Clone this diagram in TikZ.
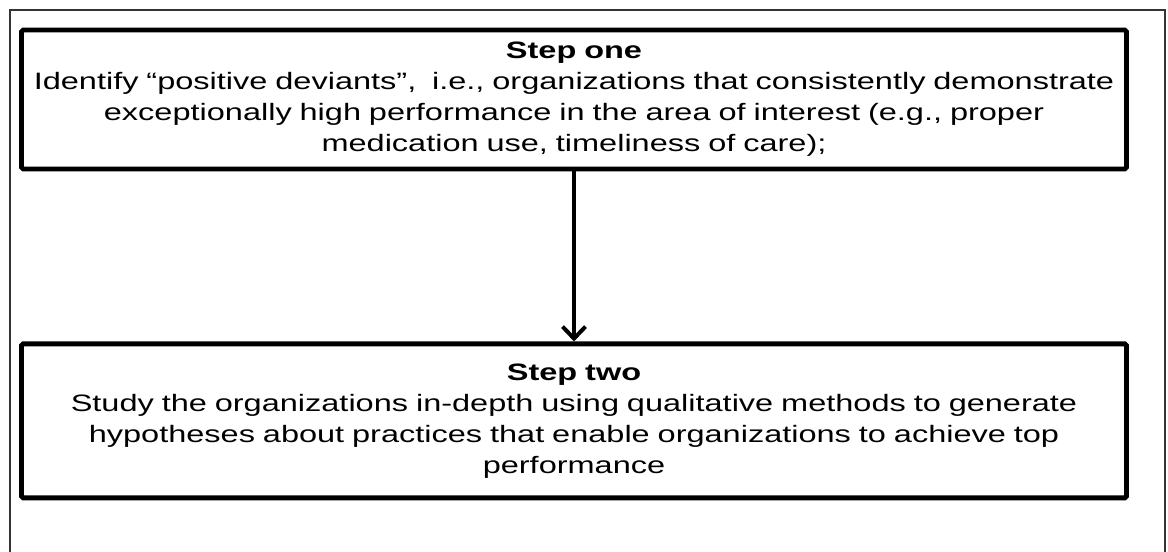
\documentclass[tikz,border=0pt]{standalone}
\usepackage{fontspec}
\setmainfont{Liberation Sans}[FakeStretch=1.37]
\usetikzlibrary{
  arrows.meta,
  positioning,
}
\tikzset{
  >={Straight Barb[width=4.6mm,length=2.4mm,line width=0.8mm]},
}

\begin{document}
\begin{tikzpicture}[
      node distance = 3.5cm,
      every node/.style={
        align=center,
      },
      stepbox/.style={draw,
        line width=2.8pt,
        rounded corners=1pt,
        minimum width=22.1cm,
        text width=22cm,
        inner xsep=0.05cm,
        font=\fontsize{13.5}{17.6}\selectfont,
      },
      ]
      \useasboundingbox (0,0) rectangle (23.36,-11.04);
      % thin frame round the whole figure
      \draw[line width=0.9pt, black!80] (0.2,-11.2) |- (23.3,-0.2) -- (23.3,-11.2);

      \node[stepbox, minimum height=2.78cm] (one) at (11.48,-1.99)
        {\textbf{Step one} \\
         Identify “positive deviants”,\ \ i.e., organizations that consistently demonstrate \\
         exceptionally high performance in the area of interest (e.g., proper \\
         medication use, timeliness of care);};
      \node[stepbox, minimum height=3.08cm, below=3.4cm of one] (two)
        {\textbf{Step two} \\
         Study the organizations in-depth using qualitative methods to generate \\
         hypotheses about practices that enable organizations to achieve top \\
         performance};

      \draw[->, line width=2.3pt] (one) -- (two);
    \end{tikzpicture}
\end{document}
